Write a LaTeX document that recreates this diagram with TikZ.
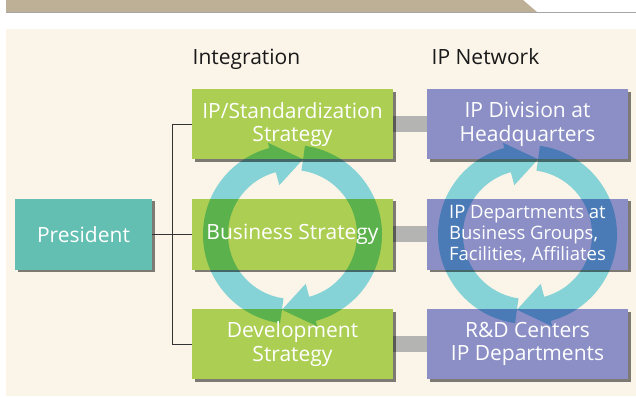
\documentclass[tikz,border=0pt]{standalone}
\usepackage{fontspec}
\setmainfont{Open Sans}
\usetikzlibrary{shadows}
\pgfdeclarelayer{background}
\pgfsetlayers{background,main}

\definecolor{cream}{HTML}{FBF4E8}
\definecolor{bannertan}{HTML}{BEAF97}
\definecolor{presteal}{HTML}{63BFB2}
\definecolor{stratgreen}{HTML}{ABCE53}
\definecolor{netpurple}{HTML}{8B8FC6}
\definecolor{linkgray}{HTML}{B4B5B2}
\definecolor{ringcyan}{HTML}{88DDEC}

\begin{document}
\begin{tikzpicture}[x=1pt, y=1pt,
        box/.style={minimum width=201pt, minimum height=71pt, inner sep=0pt,
            drop shadow={shadow xshift=2.5pt, shadow yshift=-2.5pt, fill=black, opacity=0.5}},
        txt/.style={text=white, align=center, inner sep=0pt, font=\fontsize{21}{23.5}\selectfont},
        head/.style={anchor=base west, inner sep=0pt, text=black!90, font=\fontsize{21}{23.5}\selectfont},
        ring/.style={fill=ringcyan},
        link/.style={line width=16pt, draw=linkgray},
        bracket/.style={line width=0.9pt, draw=black!80}]
    \useasboundingbox (0,0) rectangle (636,396);
    % panel and banner
    \begin{pgfonlayer}{background}
        \fill[cream] (6,0) rectangle (636,367);
        \fill[bannertan] (6,396) -- (523,396) -- (537,384) -- (6,384) -- cycle;
        \draw[black!35, line width=1.5pt] (6,383.5) -- (636,383.5);
    \end{pgfonlayer}
    % headers
    \node[head] (integ) at (192.5,331.7) {Integration};
    \node[head] (ipnet) at (431.5,331.7) {IP Network};
    % boxes
    \node[box, fill=presteal, minimum width=137pt] (pres) at (83.5,161.5) {};
    \node[box, fill=stratgreen, minimum height=70pt] (strat) at (292.5,271.7) {};
    \node[box, fill=stratgreen] (bus) at (292.5,161.5) {};
    \node[box, fill=stratgreen, minimum height=70pt] (dev) at (292.5,52) {};
    \node[box, fill=netpurple, minimum height=70pt] (ipdiv) at (527.5,271.7) {};
    \node[box, fill=netpurple] (ipdept) at (527.5,161.5) {};
    \node[box, fill=netpurple, minimum height=70pt] (rnd) at (527.5,52) {};
    % links
    \begin{pgfonlayer}{background}
        \draw[link] (strat.east) -- (ipdiv.west);
        \draw[link] (bus.east) -- (ipdept.west);
        \draw[link] (dev.east) -- (rnd.west);
    \end{pgfonlayer}
    \coordinate (fork) at (172,161.5);
    \draw[bracket] (pres.east) -- (bus.west);
    \draw[bracket] (strat.west) -- (strat.west -| fork) -- (dev.west -| fork) -- (dev.west);
    % cycles
    \begin{scope}[blend mode=multiply]
        \begin{scope}[shift={(bus.center)}]
            \fill[ring] (262:89.5) arc[start angle=262, end angle=105, radius=89.5]
                -- (105:95) -- (82:76) -- (105:51) -- (105:64.5)
                arc[start angle=105, end angle=262, radius=64.5] -- cycle;
            \fill[ring] (82:89.5) arc[start angle=82, end angle=-75, radius=89.5]
                -- (-75:95) -- (-98:76) -- (-75:51) -- (-75:64.5)
                arc[start angle=-75, end angle=82, radius=64.5] -- cycle;
        \end{scope}
        \begin{scope}[shift={(ipdept.center)}]
            \fill[ring] (262:89.5) arc[start angle=262, end angle=105, radius=89.5]
                -- (105:95) -- (82:76) -- (105:51) -- (105:64.5)
                arc[start angle=105, end angle=262, radius=64.5] -- cycle;
            \fill[ring] (82:89.5) arc[start angle=82, end angle=-75, radius=89.5]
                -- (-75:95) -- (-98:76) -- (-75:51) -- (-75:64.5)
                arc[start angle=-75, end angle=82, radius=64.5] -- cycle;
        \end{scope}
    \end{scope}
    % labels
    \node[txt] (pres-t) at (pres) {President};
    \node[txt] (strat-t) at (strat) {IP/Standardization\\Strategy};
    \node[txt] (bus-t) at (bus) {Business Strategy};
    \node[txt] (dev-t) at (dev) {Development\\Strategy};
    \node[txt] (ipdiv-t) at (ipdiv) {IP Division at\\Headquarters};
    \node[txt, align=left, font=\fontsize{18.5}{21}\selectfont] (ipdept-t) at (ipdept) {IP Departments at\\Business Groups,\\Facilities, Affiliates};
    \node[txt] (rnd-t) at (rnd) {R\&D Centers\\IP Departments};
\end{tikzpicture}
\end{document}
